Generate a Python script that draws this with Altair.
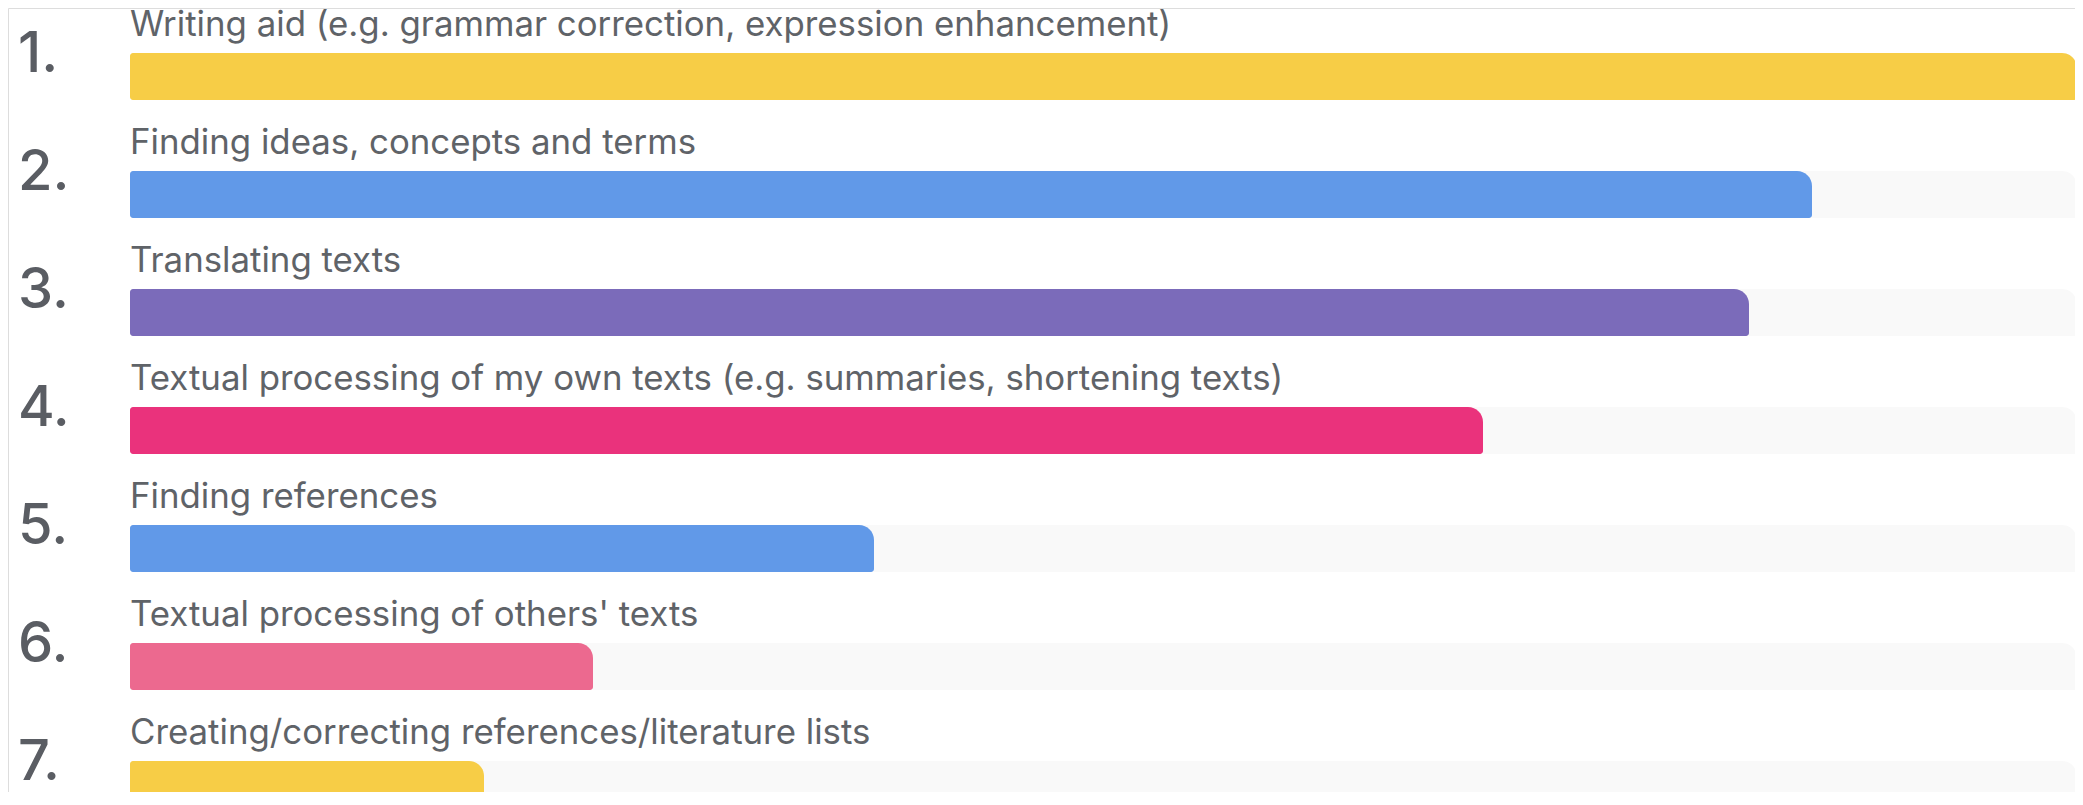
import altair as alt
import pandas as pd

ranks = ["1.", "2.", "3.", "4.", "5.", "6.", "7."]
labels = [
    "Writing aid (e.g. grammar correction, expression enhancement)",
    "Finding ideas, concepts and terms",
    "Translating texts",
    "Textual processing of my own texts (e.g. summaries, shortening texts)",
    "Finding references",
    "Textual processing of others' texts",
    "Creating/correcting references/literature lists",
]
values = [1947, 1682, 1619, 1353, 744, 463, 354]
colors = ["#F7CD46", "#6199E8", "#7B6BBA", "#EA327C", "#6199E8", "#EC698F", "#F7CD46"]
track_max = 1947

df = pd.DataFrame({
    "rank": ranks,
    "label": labels,
    "value": values,
    "color": colors,
    "track": [track_max] * len(ranks),
})

xs = alt.Scale(domain=[0, track_max], range=[122, 2069])
ys = alt.Scale(domain=ranks, range=[45, 800], paddingInner=0.6017, paddingOuter=0)

corner = dict(cornerRadiusTopRight=15, cornerRadiusBottomRight=3,
              cornerRadiusTopLeft=3, cornerRadiusBottomLeft=3)

base = alt.Chart(df)

track = base.mark_bar(color="#F9F9F9", **corner).encode(
    x=alt.X("track:Q", scale=xs, axis=None),
    y=alt.Y("rank:O", scale=ys, axis=None),
)

bars = base.mark_bar(**corner).encode(
    x=alt.X("value:Q", scale=xs, axis=None),
    y=alt.Y("rank:O", scale=ys, axis=None),
    color=alt.Color("color:N", scale=None, legend=None),
)

text = base.mark_text(
    align="left", baseline="alphabetic", dy=-17, fontSize=34.8,
    font="Inter", color="#5F6368",
).encode(
    x=alt.value(122),
    y=alt.Y("rank:O", scale=ys, axis=None, bandPosition=0),
    text="label:N",
)

nums = base.mark_text(
    align="left", baseline="alphabetic", dy=19, fontSize=56,
    font="Inter", fontWeight=500, color="#5A5D63",
).encode(
    x=alt.value(10),
    y=alt.Y("rank:O", scale=ys, axis=None, bandPosition=0),
    text="rank:N",
)

chart = alt.layer(track, bars, text, nums).properties(
    width=2067, height=784,
    autosize=alt.AutoSizeParams(type="none"),
    padding=0,
).configure_view(stroke=None).configure(background="white")

chart.save("out.html", embed_options={"renderer": "svg", "actions": False})
